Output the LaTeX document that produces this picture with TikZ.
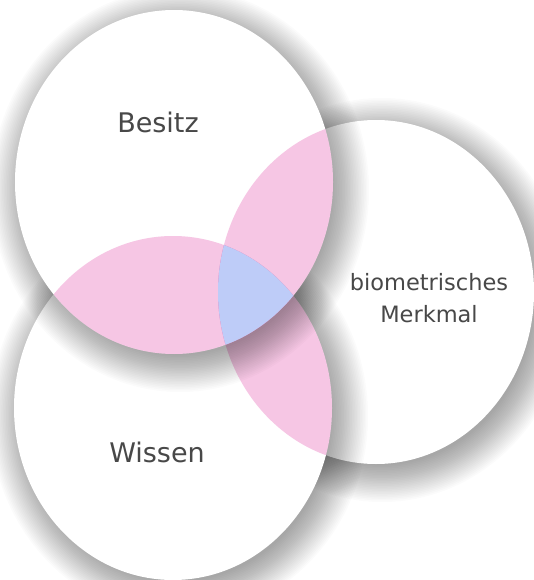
\documentclass[tikz,border=0pt]{standalone}
\usepackage{fontspec}
\setmainfont{DejaVu Sans}
\definecolor{lenspink}{RGB}{246,198,228}
\definecolor{coreblue}{RGB}{190,204,248}
\definecolor{labelgray}{RGB}{72,72,72}
\tikzset{
  txt/.style={text=labelgray, inner sep=0pt, anchor=base},
  bigtxt/.style={txt, font=\fontsize{27}{32}\selectfont},
  smalltxt/.style={txt, font=\fontsize{22.5}{30}\selectfont},
  disc/.style={fill=white},
}
\newcommand\softshadow[3]{%
  \foreach \k in {0,...,23}{%
    \pgfmathsetmacro\rx{#2+30-1.6*\k}%
    \pgfmathsetmacro\ry{#3+30-1.6*\k}%
    \fill[black,opacity=0.016] ([shift={(6,8)}]#1) ellipse [x radius=\rx pt, y radius=\ry pt];
  }%
}
\begin{document}
\begin{tikzpicture}[x=1pt,y=-1pt]
\useasboundingbox (0,0) rectangle (534,580);
\fill[white] (0,0) rectangle (534,580);
\coordinate (B) at (174,182);
\coordinate (M) at (376,292);
\coordinate (W) at (173,408);
% bio circle
\softshadow{M}{158}{172}
\fill[disc] (M) ellipse [x radius=158pt, y radius=172pt];
% Wissen circle
\softshadow{W}{159}{172}
\fill[disc] (W) ellipse [x radius=159pt, y radius=172pt];
% Besitz circle
\softshadow{B}{159}{172}
\fill[disc] (B) ellipse [x radius=159pt, y radius=172pt];
% lenses
\begin{scope}[blend mode=multiply]
  \begin{scope}
    \clip (B) ellipse [x radius=159pt, y radius=172pt];
    \fill[lenspink] (M) ellipse [x radius=158pt, y radius=172pt];
    \fill[lenspink] (W) ellipse [x radius=159pt, y radius=172pt];
  \end{scope}
  \begin{scope}
    \clip (W) ellipse [x radius=159pt, y radius=172pt];
    \fill[lenspink] (M) ellipse [x radius=158pt, y radius=172pt];
  \end{scope}
\end{scope}
\begin{scope}
  \clip (B) ellipse [x radius=159pt, y radius=172pt];
  \clip (W) ellipse [x radius=159pt, y radius=172pt];
  \fill[coreblue] (M) ellipse [x radius=158pt, y radius=172pt];
\end{scope}
% labels
\node[bigtxt] (besitz) at (158,133) {Besitz};
\node[bigtxt] (wissen) at (157,462) {Wissen};
\node[smalltxt] (bio1) at (429,290) {biometrisches};
\node[smalltxt] (bio2) at (429,322) {Merkmal};
\end{tikzpicture}
\end{document}
